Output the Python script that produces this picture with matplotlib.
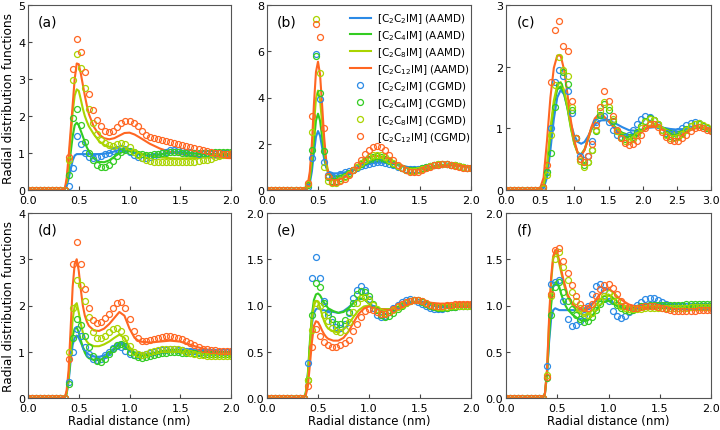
import numpy as np
import matplotlib
matplotlib.use('Agg')
import matplotlib.pyplot as plt

# ---- data ----
names = ['[C$_2$C$_2$IM]', '[C$_2$C$_4$IM]', '[C$_2$C$_8$IM]', '[C$_2$C$_{12}$IM]']
colors = ['#2b8ae6', '#33cc22', '#aad400', '#ff6622']

# x grids
r_line = [0.0, 0.36, 0.38, 0.40, 0.42, 0.44, 0.46, 0.48, 0.50, 0.52, 0.54, 0.56, 0.58, 0.60,
          0.65, 0.70, 0.75, 0.80, 0.85, 0.90, 0.95, 1.00, 1.05, 1.10,
          1.20, 1.30, 1.40, 1.50, 1.60, 1.70, 1.80, 1.90, 2.00]
r_line_c = [0.0, 0.45, 0.50, 0.55, 0.60, 0.65, 0.70, 0.75, 0.80, 0.85, 0.90, 0.95, 1.00,
            1.05, 1.10, 1.15, 1.20, 1.25, 1.30, 1.35, 1.40,
            1.50, 1.60, 1.70, 1.80, 1.90, 2.00, 2.10, 2.20, 2.30, 2.40, 2.50, 2.60, 2.70,
            2.80, 2.90, 3.00]
r_cg = np.linspace(0.0, 2.0, 51)
r_cg_c = np.linspace(0.0, 3.0, 51)

# ---- panel (a) ----
a_aa_c2 = [0, 0, 0.1, 0.3, 0.55, 0.8, 0.93, 0.97, 0.97, 0.97, 0.97, 0.97, 0.97, 0.97,
           0.97, 0.97, 0.98, 1.0, 1.04, 1.08, 1.08, 1.05, 1.0, 0.96,
           0.92, 0.96, 1.02, 1.03, 1.0, 0.97, 0.96, 0.97, 0.98]
a_aa_c4 = [0, 0, 0.15, 0.5, 1.0, 1.45, 1.75, 1.82, 1.75, 1.6, 1.45, 1.3, 1.15, 1.05,
           0.85, 0.76, 0.75, 0.8, 0.9, 0.99, 1.05, 1.05, 1.02, 0.98,
           0.95, 0.96, 1.0, 1.0, 0.99, 0.98, 0.97, 0.97, 0.97]
a_aa_c8 = [0, 0, 0.2, 0.7, 1.4, 2.1, 2.55, 2.72, 2.68, 2.45, 2.2, 2.0, 1.85, 1.72,
           1.5, 1.32, 1.22, 1.17, 1.14, 1.12, 1.11, 1.09, 1.05, 1.0,
           0.93, 0.88, 0.86, 0.85, 0.86, 0.87, 0.89, 0.91, 0.92]
a_aa_c12 = [0, 0, 0.3, 0.9, 1.6, 2.3, 3.0, 3.42, 3.4, 3.15, 2.85, 2.55, 2.28, 2.05,
            1.7, 1.5, 1.4, 1.37, 1.4, 1.47, 1.54, 1.55, 1.5, 1.42,
            1.25, 1.12, 1.03, 0.97, 0.93, 0.9, 0.88, 0.87, 0.86]
a_cg_c2 = [0, 0, 0, 0, 0, 0, 0, 0, 0, 0,
           0.1, 0.6, 1.45, 1.25, 1.0, 0.88, 0.86, 0.88, 0.92, 0.96,
           1.0, 1.06, 1.11, 1.13, 1.1, 1.02, 0.95, 0.9, 0.87, 0.87,
           0.88, 0.92, 0.96, 1.0, 1.04, 1.07, 1.08, 1.08, 1.06, 1.04,
           1.02, 1.0, 0.98, 0.97, 0.97, 0.97, 0.98, 0.99, 1.0, 1.0,
           1.0]
a_cg_c4 = [0, 0, 0, 0, 0, 0, 0, 0, 0, 0,
           0.4, 1.95, 2.2, 1.75, 1.3, 1.0, 0.8, 0.68, 0.63, 0.63,
           0.68, 0.78, 0.92, 1.03, 1.08, 1.06, 1.02, 0.98, 0.96, 0.95,
           0.95, 0.96, 0.98, 1.0, 1.01, 1.02, 1.02, 1.02, 1.01, 1.0,
           0.99, 0.99, 0.99, 1.0, 1.0, 1.01, 1.02, 1.02, 1.03, 1.03,
           1.03]
a_cg_c8 = [0, 0, 0, 0, 0, 0, 0, 0, 0, 0,
           0.8, 2.97, 3.67, 3.3, 2.75, 2.2, 1.8, 1.52, 1.35, 1.27,
           1.22, 1.2, 1.24, 1.27, 1.24, 1.15, 1.04, 0.94, 0.86, 0.81,
           0.78, 0.77, 0.76, 0.76, 0.76, 0.76, 0.76, 0.76, 0.76, 0.76,
           0.76, 0.77, 0.78, 0.8, 0.82, 0.85, 0.88, 0.92, 0.95, 0.98,
           1.0]
a_cg_c12 = [0, 0, 0, 0, 0, 0, 0, 0, 0, 0,
            0.9, 3.27, 4.07, 3.73, 3.18, 2.6, 2.15, 1.9, 1.72, 1.6,
            1.57, 1.6, 1.7, 1.8, 1.86, 1.87, 1.82, 1.72, 1.6, 1.5,
            1.44, 1.4, 1.37, 1.35, 1.33, 1.31, 1.28, 1.25, 1.22, 1.19,
            1.16, 1.13, 1.1, 1.07, 1.05, 1.03, 1.01, 0.99, 0.98, 0.97,
            0.96]

# ---- panel (b) ----
b_aa_c2 = [0, 0, 0.03, 0.1, 0.3, 0.8, 1.6, 2.3, 2.55, 2.35, 1.85, 1.35, 0.98, 0.8,
           0.72, 0.72, 0.75, 0.8, 0.88, 0.96, 1.05, 1.12, 1.17, 1.19,
           1.16, 1.06, 0.98, 0.95, 1.0, 1.08, 1.12, 1.05, 0.98]
b_aa_c4 = [0, 0, 0.03, 0.15, 0.45, 1.1, 2.1, 3.0, 3.3, 3.0, 2.3, 1.6, 1.05, 0.75,
           0.6, 0.6, 0.66, 0.75, 0.86, 0.98, 1.1, 1.18, 1.23, 1.25,
           1.18, 1.05, 0.95, 0.93, 0.99, 1.07, 1.1, 1.05, 0.99]
b_aa_c8 = [0, 0, 0.04, 0.2, 0.6, 1.5, 2.8, 3.95, 4.3, 3.9, 2.9, 1.9, 1.15, 0.72,
           0.52, 0.52, 0.58, 0.7, 0.85, 1.0, 1.14, 1.25, 1.31, 1.33,
           1.24, 1.07, 0.94, 0.91, 0.97, 1.06, 1.1, 1.05, 0.98]
b_aa_c12 = [0, 0, 0.05, 0.25, 0.8, 2.0, 3.7, 5.1, 5.55, 5.0, 3.7, 2.3, 1.3, 0.72,
            0.48, 0.46, 0.52, 0.66, 0.85, 1.05, 1.25, 1.4, 1.47, 1.47,
            1.32, 1.1, 0.93, 0.88, 0.93, 1.02, 1.06, 1.03, 0.97]
b_cg_c2 = [0, 0, 0, 0, 0, 0, 0, 0, 0, 0,
           0.15, 1.4, 5.9, 3.95, 1.2, 0.65, 0.55, 0.6, 0.7, 0.78,
           0.82, 0.88, 0.95, 1.02, 1.08, 1.13, 1.17, 1.2, 1.2, 1.17,
           1.12, 1.06, 1.0, 0.95, 0.92, 0.9, 0.9, 0.92, 0.95, 1.0,
           1.04, 1.08, 1.1, 1.12, 1.12, 1.1, 1.07, 1.03, 1.0, 0.97,
           0.96]
b_cg_c4 = [0, 0, 0, 0, 0, 0, 0, 0, 0, 0,
           0.2, 1.75, 5.8, 4.2, 1.7, 0.55, 0.4, 0.4, 0.5, 0.62,
           0.75, 0.88, 1.0, 1.12, 1.25, 1.35, 1.42, 1.45, 1.42, 1.35,
           1.24, 1.12, 1.02, 0.94, 0.88, 0.85, 0.85, 0.88, 0.93, 0.99,
           1.04, 1.09, 1.12, 1.14, 1.13, 1.1, 1.06, 1.02, 0.99, 0.97,
           0.96]
b_cg_c8 = [0, 0, 0, 0, 0, 0, 0, 0, 0, 0,
           0.25, 2.5, 7.4, 5.05, 1.0, 0.4, 0.3, 0.32, 0.42, 0.55,
           0.7, 0.85, 1.0, 1.15, 1.3, 1.42, 1.5, 1.53, 1.5, 1.42,
           1.3, 1.16, 1.03, 0.93, 0.86, 0.82, 0.82, 0.85, 0.9, 0.96,
           1.02, 1.07, 1.11, 1.13, 1.12, 1.1, 1.06, 1.02, 0.99, 0.97,
           0.96]
b_cg_c12 = [0, 0, 0, 0, 0, 0, 0, 0, 0, 0,
            0.3, 3.2, 7.2, 6.6, 2.7, 0.6, 0.35, 0.33, 0.37, 0.48,
            0.65, 0.85, 1.07, 1.3, 1.55, 1.75, 1.87, 1.9, 1.85, 1.72,
            1.52, 1.3, 1.1, 0.95, 0.85, 0.8, 0.78, 0.8, 0.86, 0.93,
            1.0, 1.06, 1.1, 1.12, 1.11, 1.08, 1.04, 1.0, 0.97, 0.95,
            0.94]

# ---- panel (c) ----
c_aa_c2 = [0, 0, 0, 0.03, 0.2, 0.65, 1.15, 1.5, 1.62, 1.55, 1.33, 1.07, 0.88,
           0.78, 0.75, 0.78, 0.87, 0.98, 1.06, 1.11, 1.13,
           1.13, 1.08, 1.02, 0.97, 0.96, 0.98, 1.01, 1.02, 1.01, 0.99, 0.98, 0.99, 1.0,
           1.01, 1.0, 0.99]
c_aa_c4 = [0, 0, 0, 0.06, 0.35, 0.9, 1.38, 1.63, 1.68, 1.57, 1.32, 1.0, 0.75,
           0.6, 0.58, 0.66, 0.83, 1.0, 1.12, 1.18, 1.19,
           1.13, 1.02, 0.93, 0.89, 0.92, 0.98, 1.04, 1.05, 1.01, 0.96, 0.94, 0.95, 0.99,
           1.02, 1.01, 0.99]
c_aa_c8 = [0, 0, 0, 0.08, 0.4, 1.0, 1.45, 1.7, 1.75, 1.62, 1.35, 1.02, 0.75,
           0.6, 0.57, 0.65, 0.82, 1.0, 1.12, 1.18, 1.19,
           1.12, 1.0, 0.91, 0.87, 0.9, 0.97, 1.04, 1.05, 1.0, 0.94, 0.92, 0.94, 0.99,
           1.02, 1.01, 0.98]
c_aa_c12 = [0, 0, 0.03, 0.2, 0.8, 1.5, 1.98, 2.18, 2.18, 1.95, 1.55, 1.12, 0.8,
            0.6, 0.56, 0.65, 0.83, 1.02, 1.16, 1.22, 1.23,
            1.12, 0.98, 0.87, 0.82, 0.85, 0.95, 1.03, 1.03, 0.97, 0.9, 0.88, 0.91, 0.97,
            1.01, 1.0, 0.96]
c_cg_c2 = [0, 0, 0, 0, 0, 0, 0, 0, 0,
           0.0, 0.3, 1.0, 1.75, 1.95, 1.85, 1.6, 1.25, 0.85, 0.55,
           0.48, 0.55, 0.8, 1.1, 1.22, 1.2, 1.1, 0.98, 0.9, 0.86,
           0.86, 0.9, 0.98, 1.07, 1.15, 1.2, 1.19, 1.13, 1.05, 0.98,
           0.93, 0.91, 0.92, 0.95, 1.0, 1.05, 1.09, 1.1, 1.08, 1.04,
           1.0, 0.97]
c_cg_c4 = [0, 0, 0, 0, 0, 0, 0, 0, 0,
           0.05, 0.3, 0.6, 1.35, 1.7, 1.92, 1.72, 1.3, 0.85, 0.5,
           0.4, 0.45, 0.65, 0.95, 1.22, 1.4, 1.3, 1.12, 0.95, 0.86,
           0.82, 0.82, 0.86, 0.94, 1.04, 1.12, 1.16, 1.14, 1.07, 0.98,
           0.91, 0.87, 0.86, 0.88, 0.93, 0.99, 1.04, 1.07, 1.07, 1.04,
           1.0, 0.97]
c_cg_c8 = [0, 0, 0, 0, 0, 0, 0, 0, 0,
           0.03, 0.25, 0.9, 1.7, 2.15, 1.95, 1.85, 1.35, 0.85, 0.47,
           0.38, 0.45, 0.65, 0.98, 1.28, 1.42, 1.35, 1.15, 0.96, 0.85,
           0.8, 0.79, 0.82, 0.9, 1.0, 1.1, 1.15, 1.14, 1.07, 0.98,
           0.9, 0.85, 0.84, 0.86, 0.91, 0.97, 1.03, 1.07, 1.08, 1.06,
           1.02, 0.98]
c_cg_c12 = [0, 0, 0, 0, 0, 0, 0, 0, 0,
            0.05, 0.4, 1.75, 2.6, 2.74, 2.33, 2.25, 1.45, 0.85, 0.5,
            0.45, 0.55, 0.75, 1.05, 1.35, 1.6, 1.45, 1.2, 0.98, 0.85,
            0.77, 0.73, 0.74, 0.8, 0.9, 1.0, 1.07, 1.07, 1.02, 0.94,
            0.86, 0.81, 0.79, 0.8, 0.84, 0.9, 0.96, 1.0, 1.02, 1.01,
            0.98, 0.95]

# ---- panel (d) ----
d_aa_c2 = [0, 0, 0.08, 0.35, 0.8, 1.15, 1.3, 1.35, 1.3, 1.2, 1.1, 1.02, 0.97, 0.94,
           0.9, 0.89, 0.92, 0.98, 1.08, 1.2, 1.18, 1.08, 0.99, 0.95,
           0.96, 1.0, 1.04, 1.05, 1.04, 1.02, 1.01, 1.0, 1.0]
d_aa_c4 = [0, 0, 0.1, 0.4, 0.95, 1.35, 1.5, 1.52, 1.42, 1.25, 1.1, 0.98, 0.9, 0.86,
           0.82, 0.82, 0.86, 0.94, 1.05, 1.17, 1.13, 1.02, 0.94, 0.91,
           0.93, 0.97, 1.0, 1.0, 0.99, 0.98, 0.98, 0.98, 0.98]
d_aa_c8 = [0, 0, 0.1, 0.45, 1.1, 1.7, 2.0, 2.05, 1.85, 1.6, 1.42, 1.3, 1.22, 1.17,
           1.12, 1.12, 1.16, 1.22, 1.3, 1.37, 1.3, 1.1, 0.98, 0.94,
           0.95, 0.98, 1.0, 1.0, 0.98, 0.96, 0.95, 0.95, 0.95]
d_aa_c12 = [0, 0, 0.15, 0.6, 1.5, 2.4, 2.9, 3.0, 2.75, 2.35, 2.0, 1.78, 1.65, 1.56,
            1.46, 1.45, 1.5, 1.6, 1.73, 1.86, 1.78, 1.5, 1.3, 1.22,
            1.2, 1.22, 1.24, 1.22, 1.15, 1.08, 1.03, 1.0, 0.99]
d_cg_c2 = [0, 0, 0, 0, 0, 0, 0, 0, 0, 0,
           0.35, 1.0, 1.5, 1.35, 1.1, 0.95, 0.85, 0.82, 0.85, 0.92,
           1.0, 1.08, 1.12, 1.1, 1.02, 0.95, 0.92, 0.92, 0.93, 0.95,
           0.97, 0.99, 1.01, 1.03, 1.04, 1.05, 1.05, 1.04, 1.03, 1.02,
           1.01, 1.01, 1.0, 1.0, 1.0, 1.0, 1.0, 1.0, 1.0, 1.0,
           1.0]
d_cg_c4 = [0, 0, 0, 0, 0, 0, 0, 0, 0, 0,
           0.3, 1.3, 1.7, 1.58, 1.35, 1.1, 0.9, 0.8, 0.78, 0.85,
           0.96, 1.07, 1.14, 1.17, 1.12, 1.0, 0.92, 0.88, 0.87, 0.88,
           0.9, 0.93, 0.95, 0.97, 0.98, 0.99, 0.99, 0.99, 0.98, 0.98,
           0.97, 0.97, 0.97, 0.96, 0.96, 0.96, 0.96, 0.96, 0.96, 0.96,
           0.96]
d_cg_c8 = [0, 0, 0, 0, 0, 0, 0, 0, 0, 0,
           1.0, 1.95, 2.55, 2.45, 2.1, 1.75, 1.42, 1.3, 1.3, 1.35,
           1.42, 1.5, 1.52, 1.45, 1.3, 1.12, 1.0, 0.95, 0.94, 0.96,
           0.99, 1.02, 1.04, 1.06, 1.07, 1.07, 1.06, 1.05, 1.03, 1.0,
           0.97, 0.95, 0.93, 0.92, 0.91, 0.9, 0.9, 0.9, 0.9, 0.9,
           0.9]
d_cg_c12 = [0, 0, 0, 0, 0, 0, 0, 0, 0, 0,
            0.85, 2.9, 3.38, 2.9, 2.35, 1.95, 1.68, 1.62, 1.65, 1.72,
            1.82, 1.95, 2.05, 2.07, 1.95, 1.7, 1.45, 1.3, 1.24, 1.24,
            1.25, 1.27, 1.29, 1.31, 1.33, 1.33, 1.32, 1.3, 1.27, 1.23,
            1.18, 1.14, 1.1, 1.07, 1.05, 1.04, 1.03, 1.02, 1.02, 1.02,
            1.02]

# ---- panel (e) ----
e_aa_c2 = [0, 0, 0.05, 0.25, 0.55, 0.8, 0.92, 0.96, 0.97, 0.96, 0.95, 0.95, 0.94, 0.94,
           0.93, 0.92, 0.94, 0.98, 1.03, 1.07, 1.07, 1.03, 0.98, 0.95,
           0.95, 0.99, 1.04, 1.04, 1.01, 0.98, 0.98, 0.99, 1.0]
e_aa_c4 = [0, 0, 0.05, 0.25, 0.6, 0.9, 1.06, 1.12, 1.13, 1.11, 1.07, 1.03, 1.0, 0.97,
           0.94, 0.92, 0.93, 0.97, 1.03, 1.08, 1.07, 1.02, 0.98, 0.96,
           0.96, 0.99, 1.03, 1.04, 1.02, 0.99, 0.99, 0.99, 1.0]
e_aa_c8 = [0, 0, 0.05, 0.22, 0.55, 0.85, 1.0, 1.05, 1.04, 0.98, 0.9, 0.83, 0.78, 0.75,
           0.72, 0.71, 0.74, 0.8, 0.88, 0.95, 0.99, 1.0, 0.98, 0.96,
           0.96, 0.99, 1.03, 1.04, 1.02, 1.0, 1.0, 1.01, 1.01]
e_aa_c12 = [0, 0, 0.03, 0.12, 0.35, 0.6, 0.78, 0.83, 0.82, 0.78, 0.73, 0.69, 0.66, 0.64,
            0.62, 0.62, 0.65, 0.72, 0.82, 0.91, 0.97, 0.99, 0.98, 0.96,
            0.95, 0.98, 1.02, 1.04, 1.03, 1.02, 1.02, 1.03, 1.03]
e_cg_c2 = [0, 0, 0, 0, 0, 0, 0, 0, 0, 0,
           0.38, 1.3, 1.52, 1.3, 1.05, 0.9, 0.82, 0.77, 0.76, 0.8,
           0.92, 1.08, 1.17, 1.21, 1.17, 1.07, 0.97, 0.9, 0.88, 0.89,
           0.93, 0.97, 1.01, 1.04, 1.06, 1.07, 1.06, 1.04, 1.02, 0.99,
           0.97, 0.96, 0.96, 0.96, 0.97, 0.98, 0.98, 0.99, 0.99, 1.0,
           1.0]
e_cg_c4 = [0, 0, 0, 0, 0, 0, 0, 0, 0, 0,
           0.2, 0.9, 1.24, 1.2, 1.03, 0.93, 0.85, 0.8, 0.8, 0.84,
           0.93, 1.03, 1.12, 1.16, 1.15, 1.1, 1.02, 0.95, 0.9, 0.88,
           0.89, 0.92, 0.96, 1.0, 1.03, 1.05, 1.06, 1.06, 1.04, 1.02,
           1.0, 0.98, 0.97, 0.97, 0.97, 0.98, 0.98, 0.99, 0.99, 1.0,
           1.0]
e_cg_c8 = [0, 0, 0, 0, 0, 0, 0, 0, 0, 0,
           0.2, 0.73, 1.03, 1.0, 0.9, 0.83, 0.76, 0.72, 0.71, 0.74,
           0.82, 0.93, 1.03, 1.08, 1.09, 1.06, 1.01, 0.96, 0.93, 0.92,
           0.93, 0.95, 0.98, 1.01, 1.03, 1.05, 1.06, 1.06, 1.05, 1.03,
           1.01, 0.99, 0.98, 0.98, 0.98, 0.99, 0.99, 1.0, 1.0, 1.0,
           1.0]
e_cg_c12 = [0, 0, 0, 0, 0, 0, 0, 0, 0, 0,
            0.13, 0.55, 0.75, 0.67, 0.61, 0.57, 0.55, 0.55, 0.57, 0.6,
            0.63, 0.72, 0.8, 0.88, 0.94, 0.96, 0.95, 0.93, 0.91, 0.91,
            0.93, 0.96, 0.99, 1.02, 1.04, 1.05, 1.06, 1.06, 1.05, 1.03,
            1.01, 1.0, 1.0, 1.0, 1.01, 1.01, 1.02, 1.02, 1.02, 1.02,
            1.02]

# ---- panel (f) ----
f_aa_c2 = [0, 0, 0.05, 0.25, 0.6, 0.85, 0.95, 0.97, 0.96, 0.95, 0.95, 0.95, 0.95, 0.95,
           0.95, 0.95, 0.96, 0.99, 1.03, 1.06, 1.07, 1.06, 1.03, 1.0,
           0.98, 1.0, 1.02, 1.02, 1.01, 1.0, 1.0, 1.0, 1.0]
f_aa_c4 = [0, 0, 0.05, 0.25, 0.65, 1.0, 1.2, 1.25, 1.25, 1.2, 1.12, 1.05, 1.0, 0.96,
           0.9, 0.86, 0.83, 0.84, 0.9, 0.98, 1.04, 1.05, 1.02, 0.98,
           0.95, 0.96, 0.99, 1.0, 1.0, 0.99, 0.99, 1.0, 1.0]
f_aa_c8 = [0, 0, 0.05, 0.3, 0.8, 1.25, 1.5, 1.57, 1.55, 1.45, 1.35, 1.25, 1.17, 1.1,
           1.0, 0.93, 0.9, 0.9, 0.96, 1.04, 1.1, 1.12, 1.08, 1.03,
           0.97, 0.96, 0.97, 0.97, 0.97, 0.97, 0.97, 0.97, 0.97]
f_aa_c12 = [0, 0, 0.05, 0.3, 0.85, 1.3, 1.53, 1.6, 1.58, 1.48, 1.38, 1.28, 1.2, 1.12,
            1.02, 0.97, 0.95, 0.96, 1.02, 1.1, 1.16, 1.18, 1.14, 1.08,
            1.01, 0.98, 0.98, 0.98, 0.97, 0.96, 0.95, 0.95, 0.95]
f_cg_c2 = [0, 0, 0, 0, 0, 0, 0, 0, 0, 0,
           0.35, 1.23, 1.25, 1.28, 1.05, 0.85, 0.78, 0.79, 0.83, 0.9,
           1.0, 1.12, 1.21, 1.23, 1.17, 1.05, 0.94, 0.89, 0.87, 0.89,
           0.93, 0.97, 1.01, 1.04, 1.07, 1.08, 1.08, 1.06, 1.04, 1.02,
           1.0, 0.99, 0.99, 0.99, 0.99, 0.99, 1.0, 1.0, 1.0, 1.0,
           1.0]
f_cg_c4 = [0, 0, 0, 0, 0, 0, 0, 0, 0, 0,
           0.22, 0.9, 1.2, 1.25, 1.15, 1.05, 0.96, 0.9, 0.85, 0.82,
           0.83, 0.88, 0.95, 1.02, 1.07, 1.08, 1.05, 1.01, 0.97, 0.95,
           0.94, 0.95, 0.97, 0.99, 1.0, 1.01, 1.01, 1.01, 1.01, 1.01,
           1.01, 1.01, 1.01, 1.01, 1.02, 1.02, 1.02, 1.02, 1.02, 1.02,
           1.02]
f_cg_c8 = [0, 0, 0, 0, 0, 0, 0, 0, 0, 0,
           0.25, 1.1, 1.5, 1.58, 1.42, 1.28, 1.15, 1.05, 0.97, 0.92,
           0.9, 0.92, 0.98, 1.05, 1.1, 1.13, 1.1, 1.05, 1.0, 0.97,
           0.96, 0.96, 0.96, 0.96, 0.97, 0.97, 0.97, 0.97, 0.97, 0.97,
           0.97, 0.97, 0.97, 0.97, 0.97, 0.98, 0.98, 0.98, 0.98, 0.98,
           0.98]
f_cg_c12 = [0, 0, 0, 0, 0, 0, 0, 0, 0, 0,
            0.23, 1.12, 1.6, 1.62, 1.48, 1.35, 1.22, 1.1, 1.02, 0.97,
            0.97, 1.02, 1.1, 1.18, 1.22, 1.23, 1.19, 1.12, 1.05, 1.0,
            0.98, 0.97, 0.97, 0.98, 0.99, 0.99, 0.99, 0.98, 0.97, 0.96,
            0.95, 0.94, 0.94, 0.94, 0.94, 0.94, 0.94, 0.95, 0.95, 0.95,
            0.95]

# ---- panel settings ----
panels = [
    ('(a)', r_line, [a_aa_c2, a_aa_c4, a_aa_c8, a_aa_c12], r_cg, [a_cg_c2, a_cg_c4, a_cg_c8, a_cg_c12], 2.0, 5, 1),
    ('(b)', r_line, [b_aa_c2, b_aa_c4, b_aa_c8, b_aa_c12], r_cg, [b_cg_c2, b_cg_c4, b_cg_c8, b_cg_c12], 2.0, 8, 2),
    ('(c)', r_line_c, [c_aa_c2, c_aa_c4, c_aa_c8, c_aa_c12], r_cg_c, [c_cg_c2, c_cg_c4, c_cg_c8, c_cg_c12], 3.0, 3, 1),
    ('(d)', r_line, [d_aa_c2, d_aa_c4, d_aa_c8, d_aa_c12], r_cg, [d_cg_c2, d_cg_c4, d_cg_c8, d_cg_c12], 2.0, 4, 1),
    ('(e)', r_line, [e_aa_c2, e_aa_c4, e_aa_c8, e_aa_c12], r_cg, [e_cg_c2, e_cg_c4, e_cg_c8, e_cg_c12], 2.0, 2, 0.5),
    ('(f)', r_line, [f_aa_c2, f_aa_c4, f_aa_c8, f_aa_c12], r_cg, [f_cg_c2, f_cg_c4, f_cg_c8, f_cg_c12], 2.0, 2, 0.5),
]

W, H = 720.0, 431.0
lefts = [28, 267, 506]
widths = [203, 204, 205]
bottoms = [191, 399]
ax_h = 185

fig = plt.figure(figsize=(7.2, 4.31), dpi=100)

for k, (tag, xl, lines, xc, cgs, xmax, ymax, ystep) in enumerate(panels):
    row, col = divmod(k, 3)
    ax = fig.add_axes([lefts[col] / W, 1 - bottoms[row] / H, widths[col] / W, ax_h / H])
    for i in range(4):
        ax.plot(xl, lines[i], color=colors[i], lw=1.5, label=names[i] + ' (AAMD)')
    for i in range(4):
        ax.plot(xc, cgs[i], 'o', color=colors[i], mfc='none', ms=4.3, mew=0.9,
                label=names[i] + ' (CGMD)')
    ax.set_xlim(0, xmax)
    ax.set_ylim(0, ymax)
    xt = np.arange(0, xmax + 0.01, 0.5)
    yt = np.arange(0, ymax + 0.01, ystep)
    ax.set_xticks(xt)
    ax.set_yticks(yt)
    ax.set_xticklabels(['%.1f' % v for v in xt])
    if ystep == 0.5:
        ax.set_yticklabels(['%.1f' % v for v in yt])
    else:
        ax.set_yticklabels(['%d' % v for v in yt])
    ax.tick_params(direction='in', length=3, labelsize=8, color='#444444')
    ax.tick_params(axis='x', pad=3.5)
    ax.tick_params(axis='y', pad=2)
    for s in ax.spines.values():
        s.set_color('#555555')
        s.set_linewidth(0.8)
    ax.text(0.05, 0.95, tag, transform=ax.transAxes, va='top', ha='left', fontsize=10)
    if col == 0:
        ax.set_ylabel('Radial distribution functions', fontsize=8.7, labelpad=2)
    if row == 1:
        ax.set_xlabel('Radial distance (nm)', fontsize=8.5, labelpad=1)
    if tag == '(b)':
        ax.legend(loc='upper right', bbox_to_anchor=(1.03, 1.0), frameon=False, fontsize=7.5,
                  handlelength=2.0, handletextpad=0.6, labelspacing=0.3, borderaxespad=0.2)

fig.savefig('out.png', dpi=100)
